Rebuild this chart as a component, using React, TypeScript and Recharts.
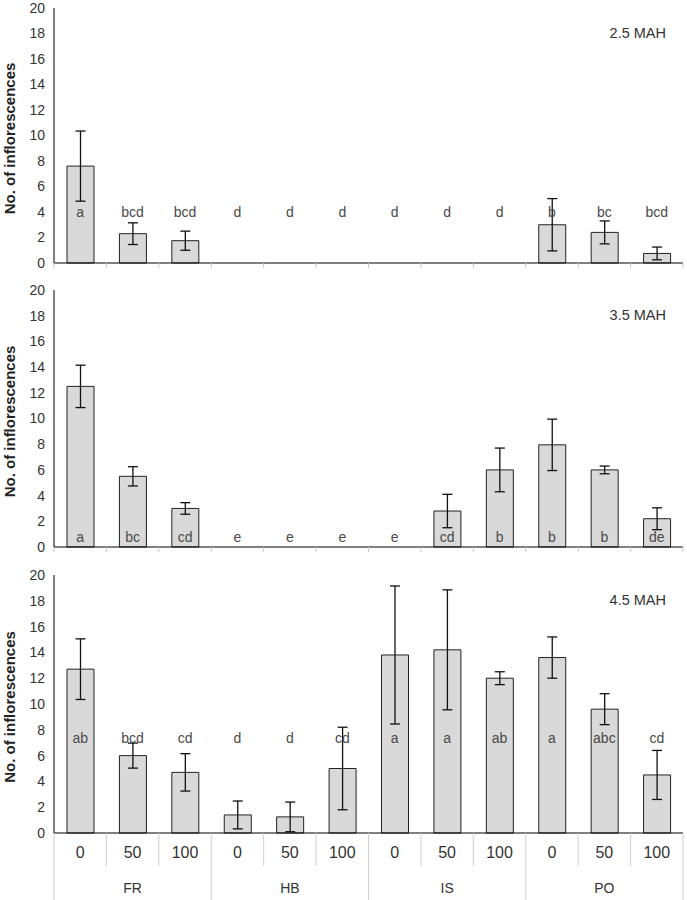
import React from 'react';
import { ComposedChart, Bar, Line, XAxis, YAxis, ErrorBar, LabelList, Label } from 'recharts';

const groups = ['FR', 'HB', 'IS', 'PO'];
const doses = ['0', '50', '100'];
const yTicks = [0, 2, 4, 6, 8, 10, 12, 14, 16, 18, 20];

const titles = ['2.5 MAH', '3.5 MAH', '4.5 MAH'];

const mean25 = [7.6, 2.3, 1.75, 0, 0, 0, 0, 0, 0, 3.0, 2.4, 0.75];
const se25 = [2.75, 0.85, 0.75, 0, 0, 0, 0, 0, 0, 2.05, 0.9, 0.5];
const letters25 = ['a', 'bcd', 'bcd', 'd', 'd', 'd', 'd', 'd', 'd', 'b', 'bc', 'bcd'];

const mean35 = [12.5, 5.5, 3.0, 0, 0, 0, 0, 2.8, 6.0, 7.95, 6.0, 2.2];
const se35 = [1.65, 0.75, 0.45, 0, 0, 0, 0, 1.3, 1.7, 2.0, 0.3, 0.85];
const letters35 = ['a', 'bc', 'cd', 'e', 'e', 'e', 'e', 'cd', 'b', 'b', 'b', 'de'];

const mean45 = [12.7, 6.0, 4.7, 1.4, 1.25, 5.0, 13.8, 14.2, 12.0, 13.6, 9.6, 4.5];
const se45 = [2.35, 0.97, 1.45, 1.08, 1.15, 3.2, 5.35, 4.65, 0.5, 1.6, 1.2, 1.9];
const letters45 = ['ab', 'bcd', 'cd', 'd', 'd', 'cd', 'a', 'a', 'ab', 'a', 'abc', 'cd'];

const letterLevels = [4, 0.75, 7.4];

const FONT = '"Liberation Sans", Arial, sans-serif';
const W = 687;
const YW = 54;
const RM = 4;
const PLOT_W = W - YW - RM;
const BW = PLOT_W / 12;

function buildRows(mean: number[], se: number[], letters: string[], lvl: number) {
  const rows: any[] = [];
  groups.forEach((g, gi) => {
    doses.forEach((d, di) => {
      const i = gi * 3 + di;
      rows.push({ id: g + '-' + d, group: g, dose: d, value: mean[i], err: se[i], letter: letters[i], lvl });
    });
  });
  return rows;
}

const data25 = buildRows(mean25, se25, letters25, letterLevels[0]);
const data35 = buildRows(mean35, se35, letters35, letterLevels[1]);
const data45 = buildRows(mean45, se45, letters45, letterLevels[2]);

const SmallTick = (props: any) => {
  const { x, y, index } = props;
  const lx = x - BW / 2;
  return (
    <g>
      <line x1={lx} y1={y} x2={lx} y2={y + 5} stroke="#c8c8c8" strokeWidth={1} />
      {index === 11 && <line x1={x + BW / 2} y1={y} x2={x + BW / 2} y2={y + 5} stroke="#c8c8c8" strokeWidth={1} />}
    </g>
  );
};

const FullTick = (props: any) => {
  const { x, y, index } = props;
  const row = data45[index];
  const lx = x - BW / 2;
  const isGroupStart = index % 3 === 0;
  return (
    <g>
      <line x1={lx} y1={y} x2={lx} y2={y + (isGroupStart ? 67 : 33)} stroke="#d0d0d0" strokeWidth={1} />
      {index === 11 && <line x1={x + BW / 2} y1={y} x2={x + BW / 2} y2={y + 67} stroke="#d0d0d0" strokeWidth={1} />}
      <text x={x} y={y + 25} textAnchor="middle" fontSize={16} fill="#333" fontFamily={FONT}>
        {row ? row.dose : ''}
      </text>
      {index % 3 === 1 && (
        <text x={x} y={y + 60} textAnchor="middle" fontSize={14} fill="#333" fontFamily={FONT}>
          {row ? row.group : ''}
        </text>
      )}
    </g>
  );
};

const YLabel = (props: any) => {
  const vb = props.viewBox || { y: 0, height: 0 };
  const cy = vb.y + vb.height / 2 + 3;
  return (
    <text x={15} y={cy} transform={`rotate(-90 15 ${cy})`} textAnchor="middle" fontSize={15} fontWeight="bold" fill="#222" fontFamily={FONT}>
      No. of inflorescences
    </text>
  );
};

type PanelProps = {
  data: any[];
  title: string;
  height: number;
  top: number;
  xHeight: number;
  bottom: number;
  full: boolean;
};

const Panel = ({ data, title, height, top, xHeight, bottom, full }: PanelProps) => {
  return (
    <ComposedChart width={W} height={height} data={data} margin={{ top, right: RM, bottom, left: 0 }}>
      <XAxis
        dataKey="id"
        height={xHeight}
        tickSize={0}
        tickMargin={0}
        tickLine={false}
        axisLine={{ stroke: '#000', strokeWidth: 1 }}
        tick={full ? <FullTick /> : <SmallTick />}
        interval={0}
      />
      <XAxis xAxisId="t" dataKey="id" orientation="top" height={0} tick={false} tickLine={false} axisLine={{ stroke: '#666', strokeWidth: 1 }} />
      <YAxis
        domain={[0, 20]}
        ticks={yTicks}
        width={YW}
        tickLine={false}
        tickMargin={3}
        axisLine={{ stroke: '#000', strokeWidth: 1 }}
        tick={{ fontSize: 14, fill: '#333', fontFamily: FONT }}
        interval={0}
      >
        <Label content={<YLabel />} />
      </YAxis>
      <YAxis yAxisId="r" orientation="right" domain={[0, 20]} width={0} tick={false} tickLine={false} axisLine={{ stroke: '#666', strokeWidth: 1 }} />
      <Bar dataKey="value" fill="#d9d9d9" stroke="#222" strokeWidth={1} barSize={27} isAnimationActive={false}>
        <ErrorBar dataKey="err" width={5} stroke="#111" strokeWidth={1.3} />
      </Bar>
      <Line dataKey="lvl" stroke="none" dot={false} activeDot={false} isAnimationActive={false}>
        <LabelList dataKey="letter" position="center" fontSize={14} fill="#4a4a4a" fontFamily={FONT} />
      </Line>
      <text x={666} y={top + 30} textAnchor="end" fontSize={14.5} fill="#333" fontFamily={FONT}>
        {title}
      </text>
    </ComposedChart>
  );
};

export default function App() {
  return (
    <div style={{ position: 'absolute', top: 0, left: 0, width: W, height: 900, background: '#fff' }}>
      <Panel data={data25} title={titles[0]} height={280} top={8} xHeight={10} bottom={7} full={false} />
      <Panel data={data35} title={titles[1]} height={280} top={10} xHeight={10} bottom={3} full={false} />
      <Panel data={data45} title={titles[2]} height={340} top={15} xHeight={67} bottom={0} full={true} />
    </div>
  );
}
